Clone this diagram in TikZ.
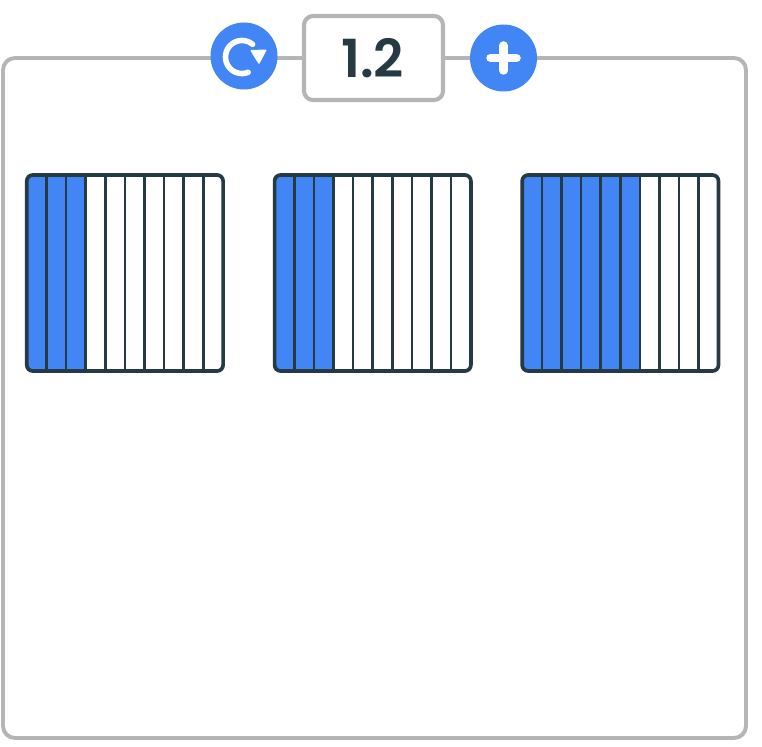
\documentclass[tikz,border=0pt]{standalone}
\usepackage{fontspec}
\setmainfont[BoldFont={Poppins SemiBold}]{Poppins}
\definecolor{framegray}{HTML}{B5B5B5}
\definecolor{actionblue}{HTML}{4285F4}
\definecolor{inkdark}{HTML}{263A44}
\tikzset{
  frameline/.style={draw=framegray,line width=3.9pt},
  iconbtn/.style={circle,fill=actionblue,minimum size=67pt,inner sep=0pt},
  valuebox/.style={draw=framegray,fill=white,line width=4.1pt,rounded corners=9pt,minimum width=139pt,minimum height=84pt,inner sep=0pt,font=\bfseries\fontsize{52.5}{53}\selectfont,text=inkdark},
  gridline/.style={draw=inkdark,line width=2.6pt},
  gridframe/.style={draw=inkdark,line width=3.7pt,rounded corners=6pt},
  iconline/.style={draw=white,line cap=round},
}
\newcommand{\fractiongrid}[2]{%
  \begin{scope}[shift={(#1,175)}]
    \fill[actionblue,rounded corners=6pt] (0,0) rectangle (#2*19.6+6,196);
    \fill[white] (#2*19.6,-1) rectangle (197,197);
    \foreach \k in {1,...,9}{\draw[gridline] (\k*19.6,0) -- (\k*19.6,196);}
    \draw[gridframe] (0,0) rectangle (196.3,196);
  \end{scope}}
\begin{document}
\begin{tikzpicture}[x=1pt,y=-1pt]
  \useasboundingbox (0,0) rectangle (762,746);
  \fill[white] (0,0) rectangle (762,746);
  \draw[frameline,rounded corners=12pt] (3,58) rectangle (746,738);
  \node[iconbtn] (reload) at (244,56) {};
  \node[iconbtn] (add) at (503.5,58) {};
  \node[valuebox] (value) at (373.5,58) {\hspace{-2pt}\raisebox{-1pt}{1.2}};
  % reload icon: a circular arc drawn point by point, then its head
  \draw[iconline,line width=5.6pt] plot[smooth,domain=68:310,samples=40,variable=\a] ({242+16.5*cos(\a)},{57+16.5*sin(\a)});
  \fill[white,rounded corners=1pt] (250,50) -- (267,49.5) -- (259,64.5) -- cycle;
  % plus icon
  \draw[iconline,line width=8.5pt] (490.5,58) -- (516.5,58);
  \draw[iconline,line width=8.5pt] (503.5,45.5) -- (503.5,70.5);
  \fractiongrid{26.8}{3}
  \fractiongrid{274.6}{3}
  \fractiongrid{522.2}{6}
\end{tikzpicture}
\end{document}
